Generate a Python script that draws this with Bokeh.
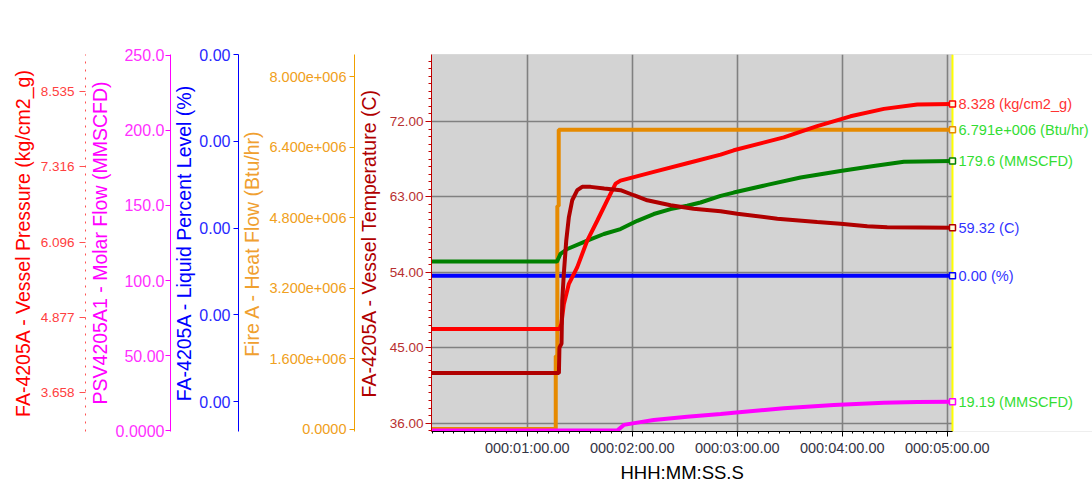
from bokeh.plotting import figure
from bokeh.models import LinearAxis, Range1d, FixedTicker, Label, BoxAnnotation, Span, Title
from bokeh.embed import file_html
from bokeh.resources import INLINE

# ---------------- data ----------------
time_temp = [5.3, 78.1, 78.4, 79.6, 80.0, 80.9, 82.3, 83.8, 85.7, 88.6, 91.4, 96.2, 104.0, 113.3,
             120.9, 128.6, 141.9, 155.0, 170.5, 180.0, 202.9, 225.7, 239.0, 254.3, 265.7, 303.0]
temp_c = [41.97, 41.97, 45.0, 45.5, 50.6, 53.8, 57.8, 60.6, 62.6, 63.8, 64.2, 64.2, 64.0, 63.8,
          63.2, 62.6, 62.0, 61.6, 61.3, 61.0, 60.4, 60.0, 59.8, 59.5, 59.37, 59.32]

time_pres = [5.3, 78.5, 79.5, 80.9, 83.8, 88.6, 94.3, 100.0, 105.7, 110.5, 113.3, 132.3, 151.4,
             170.5, 178.0, 206.6, 225.7, 244.7, 263.8, 282.9, 303.0]
pres_kg = [4.69, 4.69, 4.77, 5.09, 5.42, 5.69, 6.12, 6.44, 6.77, 7.04, 7.09, 7.23, 7.37,
           7.51, 7.58, 7.79, 7.97, 8.13, 8.25, 8.32, 8.328]

time_flow_g = [5.3, 77.0, 79.0, 82.9, 94.3, 103.8, 113.3, 122.9, 132.3, 141.9, 151.4, 159.0,
               170.5, 178.0, 197.1, 216.2, 239.0, 258.0, 275.2, 303.0]
flow_g = [112.6, 112.6, 117.7, 121.0, 126.6, 131.0, 134.3, 139.8, 144.3, 147.6, 149.8, 152.0,
          156.4, 158.6, 163.7, 168.6, 173.0, 176.3, 179.2, 179.6]

time_flow_m = [5.3, 111.4, 115.2, 122.9, 132.3, 151.4, 170.5, 178.0, 206.6, 235.2, 263.8, 282.9, 303.0]
flow_m = [0.0, 0.0, 3.8, 5.3, 7.1, 9.3, 11.1, 11.9, 14.9, 17.1, 18.6, 19.0, 19.19]

time_heat = [5.3, 76.3, 76.3, 77.2, 77.2, 78.0, 78.0, 303.0]
heat_btu = [0.0, 0.0, 1.66e6, 1.66e6, 5.06e6, 5.06e6, 6.791e6, 6.791e6]

time_level = [5.3, 303.0]
level_pct = [0.0, 0.0]

# ---------------- ticks ----------------
time_ticks = [60, 120, 180, 240, 300]
time_labels = ["000:01:00.00", "000:02:00.00", "000:03:00.00", "000:04:00.00", "000:05:00.00"]
temp_ticks = [36, 45, 54, 63, 72]
temp_labels = ["36.00", "45.00", "54.00", "63.00", "72.00"]
heat_ticks = [0.0, 1.6e6, 3.2e6, 4.8e6, 6.4e6, 8.0e6]
heat_labels = ["0.0000", "1.600e+006", "3.200e+006", "4.800e+006", "6.400e+006", "8.000e+006"]
level_ticks = [0.00586, 0.00356, 0.00126, -0.00104, -0.00334]
level_labels = ["0.00", "0.00", "0.00", "0.00", "0.00"]
flow_ticks = [0, 50, 100, 150, 200, 250]
flow_labels = ["0.0000", "50.00", "100.0", "150.0", "200.0", "250.0"]
pres_ticks = [3.658, 4.877, 6.096, 7.316, 8.535]
pres_labels = ["3.658", "4.877", "6.096", "7.316", "8.535"]

FONT = "Liberation Sans"
T_START, T_END = 5.3, 303.0
X_VIEW_END = 383.0   # frame continues right of the plot area to hold the end labels

p = figure(width=1092, height=497, x_range=Range1d(T_START, X_VIEW_END), y_range=Range1d(35.0, 80.0),
           output_backend="svg", toolbar_location=None,
           min_border_left=431, min_border_right=0, min_border_top=54, min_border_bottom=66)
p.extra_y_ranges = {
    "pres": Range1d(3.03, 9.13),
    "flow": Range1d(-0.6, 250.6),
    "level": Range1d(-0.004133, 0.005867),
    "heat": Range1d(-0.0545e6, 8.5e6),
}
p.background_fill_color = "#D3D3D3"
p.border_fill_color = "white"
p.outline_line_color = None

# grids
p.xgrid.ticker = FixedTicker(ticks=time_ticks)
p.ygrid.ticker = FixedTicker(ticks=temp_ticks)
for g in (p.xgrid[0], p.ygrid[0]):
    g.grid_line_color = "#808080"
    g.grid_line_width = 1.6

# white label area right of the plot area
p.add_layout(BoxAnnotation(left=T_END, right=X_VIEW_END, bottom=35.0, top=80.0, level="underlay",
                           fill_color="white", fill_alpha=1, line_color=None))
p.add_layout(BoxAnnotation(left=T_START, right=T_END, bottom=35.0, top=80.0, level="underlay",
                           fill_color=None, fill_alpha=0, line_color="#808080", line_width=1))
p.add_layout(Span(location=T_END, dimension="height", line_color="#FFFF00", line_width=2,
                  level="underlay"))


def style_axis(ax, ticks, labels, color, text_color, label_color, size, tick_out, std, lab_std,
               minor=None):
    ax.ticker = FixedTicker(ticks=ticks, minor_ticks=minor or [])
    ax.major_label_overrides = dict(zip(ticks, labels))
    ax.axis_line_color = color
    ax.major_tick_line_color = color
    ax.minor_tick_line_color = color if minor else None
    ax.major_tick_out = tick_out
    ax.major_tick_in = 0
    ax.minor_tick_out = 3
    ax.minor_tick_in = 0
    ax.major_label_standoff = std
    ax.axis_label_standoff = lab_std
    ax.major_label_text_font = FONT
    ax.major_label_text_font_size = size
    ax.major_label_text_color = text_color
    ax.axis_label_text_font = FONT
    ax.axis_label_text_font_size = "19.5px"
    ax.axis_label_text_font_style = "normal"
    ax.axis_label_text_color = label_color


# x axis
xa = p.xaxis[0]
xa.bounds = (T_START, T_END)
xa.ticker = FixedTicker(ticks=time_ticks, minor_ticks=list(range(6, 304, 6)))
xa.major_label_overrides = dict(zip(time_ticks, time_labels))
xa.axis_line_color = "#000000"
xa.major_tick_line_color = "#000000"
xa.minor_tick_line_color = "#000000"
xa.major_tick_out = 5
xa.major_tick_in = 0
xa.minor_tick_out = 2
xa.minor_tick_in = 0
xa.major_label_standoff = 3
xa.major_label_text_font = FONT
xa.major_label_text_font_size = "14.5px"
xa.major_label_text_color = "#333344"

# x axis title, placed under the plot area
p.add_layout(Title(text="HHH:MM:SS.S", align="left", offset=189, vertical_align="top", standoff=7,
                   text_font=FONT, text_font_size="18.5px", text_font_style="normal",
                   text_color="#000000"), "below")

# temperature axis (default, next to the plot)
temp_minor = [round(36 + 0.9 * k, 2) for k in range(-1, 50) if 35.0 <= 36 + 0.9 * k <= 80.0]
ya = p.yaxis[0]
ya.axis_label = "FA-4205A - Vessel Temperature (C)"
style_axis(ya, temp_ticks, temp_labels, "#C00000", "#B83030", "#B00000", "13.5px", 6, 2, 7,
           minor=temp_minor)

ax_heat = LinearAxis(y_range_name="heat", axis_label="Fire A - Heat Flow (Btu/hr)")
style_axis(ax_heat, heat_ticks, heat_labels, "#F0A000", "#F0A020", "#F0A030", "14.5px", 5, 3, 3)
p.add_layout(ax_heat, "left")

ax_level = LinearAxis(y_range_name="level", axis_label="FA-4205A - Liquid Percent Level (%)")
style_axis(ax_level, level_ticks, level_labels, "#0000FF", "#2828FF", "#0000FF", "16px", 5, 3, 1)
p.add_layout(ax_level, "left")

ax_flow = LinearAxis(y_range_name="flow", axis_label="PSV4205A1 - Molar Flow (MMSCFD)")
style_axis(ax_flow, flow_ticks, flow_labels, "#FF00FF", "#FF30FF", "#FF00FF", "16px", 5, 1, 2)
p.add_layout(ax_flow, "left")

ax_pres = LinearAxis(y_range_name="pres", axis_label="FA-4205A - Vessel Pressure (kg/cm2_g)")
style_axis(ax_pres, pres_ticks, pres_labels, "#FF5050", "#FF4040", "#FF0000", "13.5px", 6, 5, 4)
ax_pres.axis_line_dash = "2 6"
p.add_layout(ax_pres, "left")

# ---------------- series ----------------
LW = 4
p.line(time_level, level_pct, y_range_name="level", line_width=LW, color="#0000FF")
p.line(time_heat, heat_btu, y_range_name="heat", line_width=LW, color="#E68A00")
p.line(time_flow_g, flow_g, y_range_name="flow", line_width=LW, color="#008000")
p.line(time_pres, pres_kg, y_range_name="pres", line_width=LW, color="#FF0000")
p.line(time_temp, temp_c, y_range_name="default", line_width=LW, color="#B00000")
p.line(time_flow_m, flow_m, y_range_name="flow", line_width=LW, color="#FF00FF")


def fmt_e(v):
    m, e = f"{v:.3e}".split("e")
    return f"{m}e{e[0]}{int(e[1:]):03d}"


ends = [
    (time_pres, pres_kg, "pres", f"{pres_kg[-1]:.3f} (kg/cm2_g)", "#FF0000", "#FF3333"),
    (time_heat, heat_btu, "heat", f"{fmt_e(heat_btu[-1])} (Btu/hr)", "#E68A00", "#33DD33"),
    (time_flow_g, flow_g, "flow", f"{flow_g[-1]:.1f} (MMSCFD)", "#008000", "#33DD33"),
    (time_temp, temp_c, "default", f"{temp_c[-1]:.2f} (C)", "#B00000", "#3333FF"),
    (time_level, level_pct, "level", f"{level_pct[-1]:.2f} (%)", "#0000FF", "#3333FF"),
    (time_flow_m, flow_m, "flow", f"{flow_m[-1]:.2f} (MMSCFD)", "#FF00FF", "#33DD33"),
]
for ts, vs, rn, txt, col, tcol in ends:
    p.scatter([ts[-1]], [vs[-1]], y_range_name=rn, marker="square", size=6,
              fill_color="#FFFFE0", line_color=col, line_width=1.5)
    p.add_layout(Label(x=ts[-1], y=vs[-1], y_range_name=rn, text=txt, x_offset=6,
                       text_baseline="middle", text_font=FONT, text_font_size="14.6px",
                       text_color=tcol))

open("out.html", "w").write(file_html(p, INLINE))
